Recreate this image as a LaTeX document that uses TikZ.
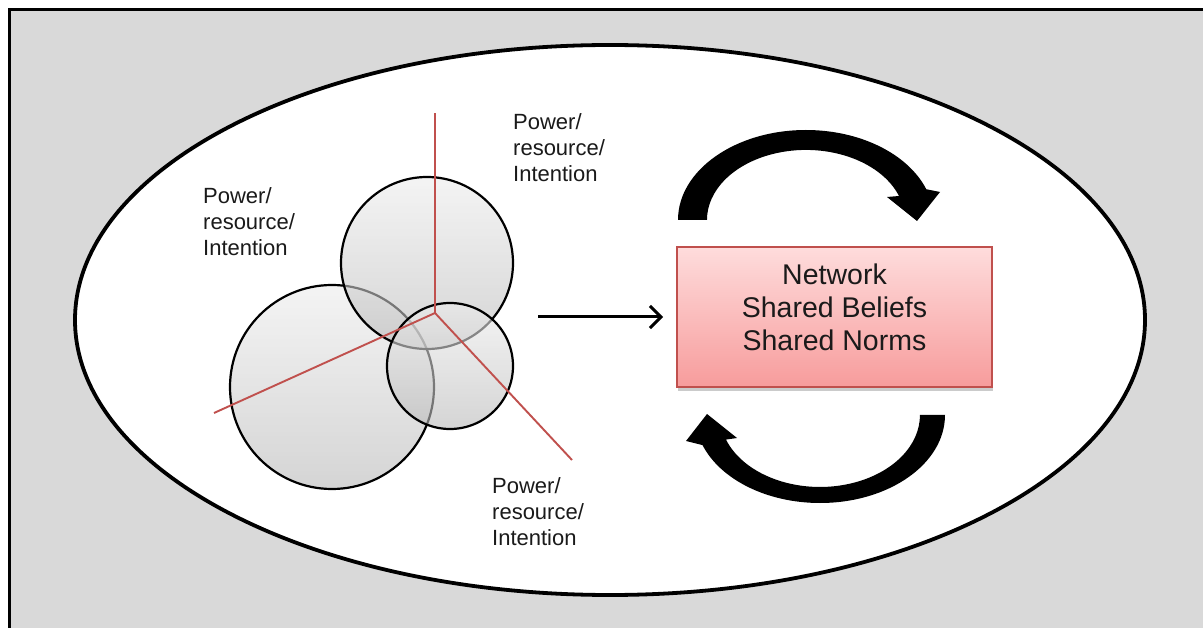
\documentclass[tikz,border=0pt]{standalone}
\usepackage{fontspec}
\setmainfont{Liberation Sans}
\usepackage{xcolor}
\usepackage{tikz}
\usetikzlibrary{arrows.meta,shapes,shadows,positioning}
\definecolor{bggray}{HTML}{D9D9D9}
\definecolor{axisred}{HTML}{C0504D}
\definecolor{boxtop}{HTML}{FEDCDC}
\definecolor{boxbot}{HTML}{F79C9C}
\definecolor{txtgray}{HTML}{1A1A1A}
\newcommand{\pri}{Power/\\resource/\\Intention}

\begin{document}
\begin{tikzpicture}[x=1pt, y=-1pt,
                          frame/.style={line width=3.5pt, black},
                          ball/.style={circle, draw=black, line width=2.2pt, fill opacity=0.6,
                                       top color=gray!14, bottom color=gray!55, inner sep=0pt},
                          axis/.style={axisred, line width=1.9pt},
                          label/.style={anchor=west, align=left, inner sep=0pt, text=txtgray,
                                        font=\fontsize{22}{26}\selectfont},
                          netbox/.style={rectangle, draw=axisred, line width=1.8pt,
                                         top color=boxtop, bottom color=boxbot,
                                         minimum width=315pt, minimum height=140pt,
                                         drop shadow={shadow xshift=1pt, shadow yshift=-4pt,
                                                      fill=black!40, opacity=0.5}},
                          boxtext/.style={align=center, inner sep=0pt, text=txtgray,
                                          font=\fontsize{28.5}{33}\selectfont},
                          flow/.style={line width=3pt, -{Straight Barb[length=11pt, width=22pt]}},
                          loop/.style={fill=black},
                         ]

\useasboundingbox (0,0) rectangle (1203,628);

% background and frame
\fill[bggray] (9,9) rectangle (1203,628);
\draw[frame] (9.5,640) -- (9.5,9.5) -- (1215,9.5);
\draw[fill=white, line width=3.8pt] (610,320) ellipse [x radius=535, y radius=275];

% the three circles
\node[ball, minimum size=204pt] (bigc) at (332,387) {};
\node[ball, minimum size=172pt] (upc) at (427,263) {};
\node[ball, minimum size=126pt] (smallc) at (450,366) {};

% axes
\coordinate (hub) at (435,313);
\coordinate (upend) at (435,113);
\coordinate (leftend) at (214,413);
\coordinate (downend) at (572,460);
\draw[axis] (hub) -- (upend);
\draw[axis] (hub) -- (leftend);
\draw[axis] (hub) -- (downend);

\node[label] (lblleft) at (203,222) {\pri};
\node[label] (lblup) at (513,148) {\pri};
\node[label] (lbldown) at (492,512) {\pri};

% network box
\node[netbox] (box) at (834.5,317) {};
\node[boxtext] (boxtxt) at (834.5,307) {Network\\Shared Beliefs\\Shared Norms};

\draw[flow, shorten <=24pt, shorten >=13pt] (smallc.east |- box.west) -- (box.west);

% upper loop arrow
\fill[loop] (678,220) arc[start angle=180, end angle=340, x radius=128, y radius=90]
      -- (940,192) -- (917,221) -- (887,197)
      -- (899,196) arc[start angle=340, end angle=180, x radius=99, y radius=70] -- cycle;

% lower loop arrow
\fill[loop] (945,415) arc[start angle=0, end angle=160, x radius=125, y radius=88]
      -- (686,441) -- (707,414) -- (737,438)
      -- (726,439.6) arc[start angle=160, end angle=0, x radius=100, y radius=72] -- cycle;

\end{tikzpicture}
\end{document}
